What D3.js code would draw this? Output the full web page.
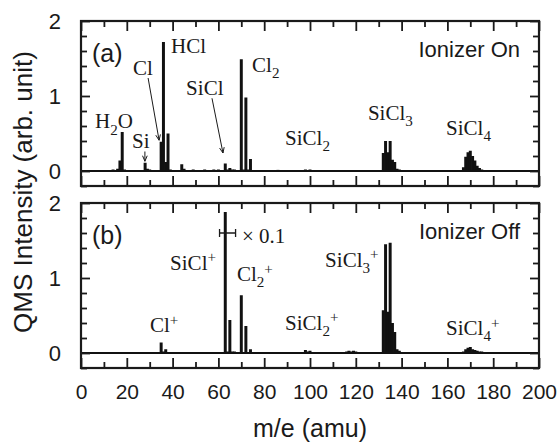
<!DOCTYPE html>
<html><head><meta charset="utf-8">
<script src="https://cdn.jsdelivr.net/npm/d3@7"></script>
<style>body{margin:0;background:#fff}svg{display:block}</style>
</head><body>
<svg id="c" width="560" height="442"></svg>
<script>
// ---- data (m/e in amu, intensity in arb. unit) ----
const massesA = [12,14,16,17,18,19,20,28,29,30,32,35,36,37,38,39,41,44,45,47,49,51,54,56,58,60,63,64,65,66,67,70,71,72,73,74,76,80,84,86,90,93,98,99,100,102,104,106,108,132,133,134,135,136,137,138,139,167,168,169,170,171,172,173,174,175];
const valuesA = [0.01,0.02,0.03,0.14,0.52,0.02,0.01,0.11,0.03,0.02,0.01,0.39,1.72,0.12,0.50,0.02,0.01,0.09,0.03,0.01,0.02,0.01,0.02,0.01,0.02,0.02,0.10,0.02,0.04,0.02,0.02,1.49,0.02,0.98,0.02,0.16,0.01,0.01,0.01,0.015,0.01,0.01,0.02,0.01,0.02,0.01,0.01,0.01,0.01,0.24,0.40,0.25,0.40,0.15,0.12,0.03,0.02,0.05,0.19,0.25,0.27,0.20,0.14,0.07,0.04,0.02];
const massesB = [28,32,35,36,37,44,63,64,65,66,67,68,70,71,72,73,74,82,98,99,100,101,116,117,118,119,120,132,133,134,135,136,137,138,139,167,168,169,170,171,172,173,174,175,176,177];
const valuesB = [0.01,0.01,0.14,0.02,0.05,0.01,1.88,0.02,0.44,0.02,0.02,0.01,0.77,0.01,0.36,0.01,0.05,0.01,0.04,0.02,0.03,0.01,0.02,0.03,0.02,0.03,0.02,0.57,1.45,0.55,1.47,0.40,0.28,0.05,0.03,0.02,0.05,0.07,0.08,0.05,0.04,0.03,0.02,0.02,0.01,0.01];

const xMajorTicks = [0,20,40,60,80,100,120,140,160,180,200];
const xMinorTicks = [10,30,50,70,90,110,130,150,170,190];
const yMajorTicks = [0,1,2];
const yMinorTicks = [-0.2,0.2,0.4,0.6,0.8,1.2,1.4,1.6,1.8];

// labels: text with _x subscript, ^x superscript; positioned at (amu, intensity) of baseline start
const labelTextA = ["H_2O","Si","Cl","HCl","SiCl","Cl_2","SiCl_2","SiCl_3","SiCl_4"];
const labelMassA = [6.1,22.3,22.7,39.3,45.9,74.7,89.1,125.3,159.4];
const labelValA  = [0.57,0.31,1.28,1.57,1.01,1.32,0.35,0.68,0.48];
const labelTextB = ["Cl^+","SiCl^+","Cl_2^+","SiCl_2^+","SiCl_3^+","SiCl_4^+"];
const labelMassB = [30.1,38.9,68.1,89.1,106.6,159.4];
const labelValB  = [0.28,1.11,0.96,0.31,1.15,0.24];

// arrows in panel (a): [fromMass, fromVal, toMass, toVal]
const arrowsA = [[29.3,1.24,34.1,0.41],[57.2,0.97,62.0,0.24],[27.9,0.26,27.9,0.13]];

const svg = d3.select("#c");
const L = 81, R = 539;
const INK = "#1a1a1a";
const x = d3.scaleLinear().domain([0,200]).range([L,R]);
const panels = [
  {top:21, bot:186, masses:massesA, values:valuesA, tag:"(a)", mode:"Ionizer On",
   lt:labelTextA, lm:labelMassA, lv:labelValA, arrows:arrowsA, xlabels:false},
  {top:203, bot:368, masses:massesB, values:valuesB, tag:"(b)", mode:"Ionizer Off",
   lt:labelTextB, lm:labelMassB, lv:labelValB, arrows:[], xlabels:true}
];

function richText(g, str, px, py, size){
  const t = g.append("text").attr("x",px).attr("y",py)
    .attr("font-family","'Liberation Serif','Times New Roman',serif")
    .attr("font-size",size).attr("fill",INK);
  let shift = 0;
  for (let i=0;i<str.length;i++){
    const c = str[i];
    if (c==="_"||c==="^"){
      const ch = str[i+1]; i++;
      const target = c==="_" ? size*0.3 : -size*0.35;
      t.append("tspan").attr("dy", target-shift).attr("font-size",size*0.72).text(ch);
      shift = target;
    } else {
      t.append("tspan").attr("dy", -shift).text(c);
      shift = 0;
    }
  }
  return t;
}

panels.forEach((p,pi)=>{
  const y = d3.scaleLinear().domain([-0.2,2]).range([p.bot,p.top]);
  const g = svg.append("g");

  // bars
  g.selectAll("rect.bar").data(p.masses.map((m,i)=>({m, v:p.values[i]}))).join("rect")
    .attr("class","bar")
    .attr("x", d=>x(d.m-0.65)).attr("width", d=>x(d.m+0.65)-x(d.m-0.65))
    .attr("y", d=>y(d.v)).attr("height", d=>y(0)-y(d.v))
    .attr("fill","#111");

  // zero line
  g.append("line").attr("x1",x(0)).attr("x2",x(200)).attr("y1",y(0)).attr("y2",y(0))
    .attr("stroke","#111").attr("stroke-width",2);

  // axes (inward ticks)
  const axStyle = sel => { sel.select(".domain").remove(); sel.selectAll(".tick line").attr("stroke",INK).attr("stroke-width",1.8); };
  const bMaj = d3.axisBottom(x).tickValues(xMajorTicks).tickSizeInner(-10).tickSizeOuter(0).tickPadding(16)
    .tickFormat(p.xlabels ? d3.format("d") : "");
  const gb = g.append("g").attr("transform",`translate(0,${p.bot})`).call(bMaj); axStyle(gb);
  gb.selectAll("text").attr("font-family","'Liberation Sans',Arial,sans-serif").attr("font-size",21).attr("fill",INK);
  const gb2 = g.append("g").attr("transform",`translate(0,${p.bot})`).call(d3.axisBottom(x).tickValues(xMinorTicks).tickSizeInner(-6).tickSizeOuter(0).tickFormat("")); axStyle(gb2);
  const gt = g.append("g").attr("transform",`translate(0,${p.top})`).call(d3.axisTop(x).tickValues(xMajorTicks).tickSizeInner(-10).tickSizeOuter(0).tickFormat("")); axStyle(gt);
  const gt2 = g.append("g").attr("transform",`translate(0,${p.top})`).call(d3.axisTop(x).tickValues(xMinorTicks).tickSizeInner(-6).tickSizeOuter(0).tickFormat("")); axStyle(gt2);

  const gl = g.append("g").attr("transform",`translate(${L},0)`).call(d3.axisLeft(y).tickValues(yMajorTicks).tickSizeInner(-9).tickSizeOuter(0).tickPadding(20).tickFormat(d3.format("d"))); axStyle(gl);
  gl.selectAll("text").attr("font-family","'Liberation Sans',Arial,sans-serif").attr("font-size",22).attr("fill",INK);
  const gl2 = g.append("g").attr("transform",`translate(${L},0)`).call(d3.axisLeft(y).tickValues(yMinorTicks).tickSizeInner(-6).tickSizeOuter(0).tickFormat("")); axStyle(gl2);
  const gr = g.append("g").attr("transform",`translate(${R},0)`).call(d3.axisRight(y).tickValues(yMajorTicks).tickSizeInner(-9).tickSizeOuter(0).tickFormat("")); axStyle(gr);
  const gr2 = g.append("g").attr("transform",`translate(${R},0)`).call(d3.axisRight(y).tickValues(yMinorTicks).tickSizeInner(-6).tickSizeOuter(0).tickFormat("")); axStyle(gr2);

  // frame
  g.append("rect").attr("x",L).attr("y",p.top).attr("width",R-L).attr("height",p.bot-p.top)
    .attr("fill","none").attr("stroke",INK).attr("stroke-width",2.2);

  // panel tag & mode
  g.append("text").attr("x",L+11).attr("y",p.top+41).text(p.tag)
    .attr("font-family","'Liberation Sans',Arial,sans-serif").attr("font-size",25).attr("fill",INK);
  g.append("text").attr("x",R-19).attr("y",p.top+36).attr("text-anchor","end").text(p.mode)
    .attr("font-family","'Liberation Sans',Arial,sans-serif").attr("font-size",22).attr("fill",INK);

  // species labels
  p.lt.forEach((s,i)=> richText(g, s, x(p.lm[i]), y(p.lv[i]), 21));

  // arrows
  p.arrows.forEach(a=>{
    const x1=x(a[0]), y1=y(a[1]), x2=x(a[2]), y2=y(a[3]);
    g.append("line").attr("x1",x1).attr("y1",y1).attr("x2",x2).attr("y2",y2).attr("stroke",INK).attr("stroke-width",1);
    const ang = Math.atan2(y2-y1,x2-x1), hl=6, ha=0.4;
    g.append("path").attr("d",`M${x2-hl*Math.cos(ang-ha)},${y2-hl*Math.sin(ang-ha)}L${x2},${y2}L${x2-hl*Math.cos(ang+ha)},${y2-hl*Math.sin(ang+ha)}`)
      .attr("fill","none").attr("stroke",INK).attr("stroke-width",1);
  });

  if (pi===1){
    // x0.1 scale marker
    const ey = y(1.6), ex1 = x(60.5), ex2 = x(67.5);
    g.append("path").attr("d",`M${ex1},${ey-4}V${ey+4}M${ex1},${ey}H${ex2}M${ex2},${ey-4}V${ey+4}`)
      .attr("stroke",INK).attr("stroke-width",1.3).attr("fill","none");
    g.append("text").attr("x",x(70.3)).attr("y",y(1.47)).text("× 0.1")
      .attr("font-family","'Liberation Serif','Times New Roman',serif").attr("font-size",21).attr("fill",INK);
  }
});

// axis titles
svg.append("text").attr("transform",`translate(32,192) rotate(-90)`).attr("text-anchor","middle")
  .attr("font-family","'Liberation Sans',Arial,sans-serif").attr("font-size",26).attr("fill",INK)
  .text("QMS Intensity (arb. unit)");
svg.append("text").attr("x",310).attr("y",437).attr("text-anchor","middle")
  .attr("font-family","'Liberation Sans',Arial,sans-serif").attr("font-size",25).attr("fill",INK)
  .text("m/e (amu)");
</script>
</body></html>
